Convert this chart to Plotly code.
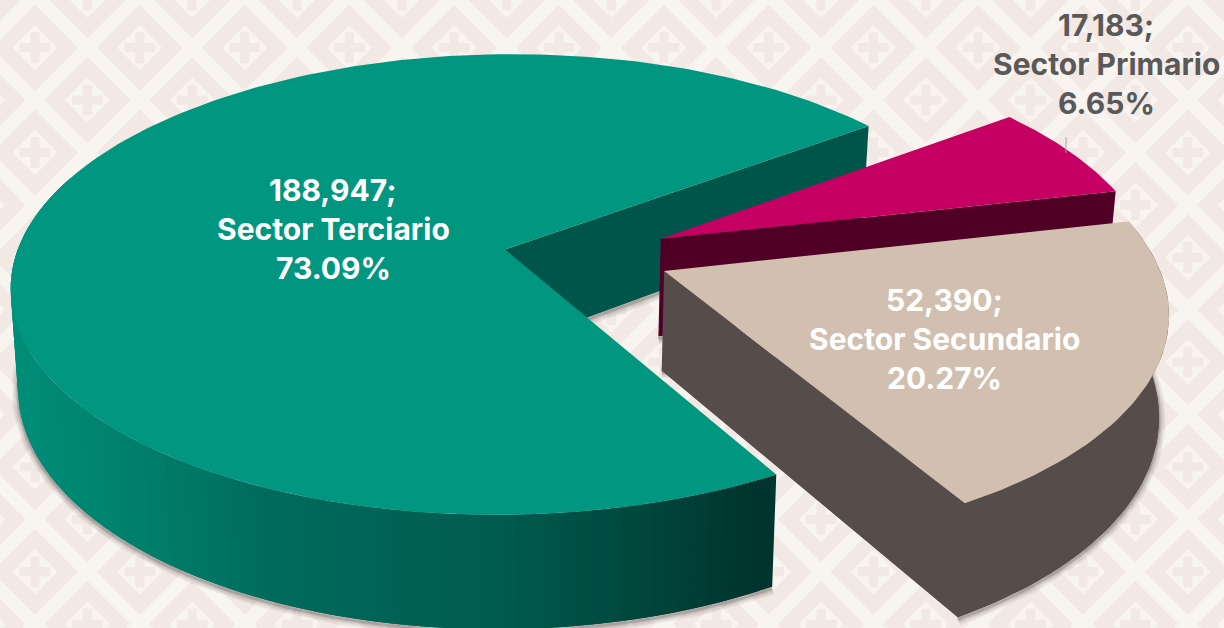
import math
import plotly.graph_objects as go

# ---- data ----
sectors = ["Sector Terciario", "Sector Primario", "Sector Secundario"]
values = [188947, 17183, 52390]
top_colors = ["#00967F", "#C50062", "#D1BFB0"]
cut_colors = ["#00554A", "#4F0024", "#564C49"]
label_colors = ["#FFFFFF", "#595959", "#FFFFFF"]
label_pos = [(333, 190), (1106, 25), (944, 300)]
start_angle = 60.7
explode = [(0.0, 0.0), (0.321, -0.045), (0.322, 0.097)]

W, H = 1224, 628
X0, Y0, A, B, K = 505.0, 249.5, 225.0, 488.0, 0.152
Y0B, AB, BB = 347.5, 239.0, 488.0 * 0.985
SX, SY = -4.0, -2.0


def top(u, v):
    d = 1 - K * v
    return X0 + (B * u + SX * v) / d, Y0 + (A * v + SY * u) / d


def bottom(u, v):
    d = 1 - K * v
    return X0 + (BB * u + SX * v) / d, Y0B + (AB * v + SY * u) / d


def rim(a, off):
    r = math.radians(a)
    return math.cos(r) + off[0], math.sin(r) + off[1]


def curve(fn, a0, a1, off, n=60):
    pts = [fn(*rim(a0 + (a1 - a0) * i / n, off)) for i in range(n + 1)]
    return [p[0] for p in pts], [p[1] for p in pts]


total = sum(values)
spans = [v / total * 360 for v in values]
angles = []
cur = start_angle
for s in spans:
    angles.append((cur, cur + s))
    cur += s

fig = go.Figure()


def poly(xs, ys, color):
    fig.add_trace(go.Scatter(x=list(xs) + [xs[0]], y=list(ys) + [ys[0]], mode="lines", fill="toself",
                             fillcolor=color, line=dict(width=0),
                             hoverinfo="skip", showlegend=False))


def shadow(xs, ys):
    for w, op in [(13, 0.07), (9, 0.09), (5, 0.12), (2.5, 0.16)]:
        fig.add_trace(go.Scatter(x=xs, y=[y + 2 for y in ys], mode="lines",
                                 line=dict(color=f"rgba(50,42,42,{op})", width=w),
                                 hoverinfo="skip", showlegend=False))


def teal_wall_color(x):
    stops = [(0, (0, 144, 122)), (150, (0, 128, 108)), (300, (0, 106, 91)),
             (520, (0, 92, 78)), (650, (0, 72, 62)), (776, (0, 52, 46))]
    for (x1, c1), (x2, c2) in zip(stops, stops[1:]):
        if x <= x2:
            t = max(0, (x - x1) / (x2 - x1))
            return "rgb(%d,%d,%d)" % tuple(round(p + (q - p) * t) for p, q in zip(c1, c2))
    return "rgb(0,52,46)"


# ---- teal slice ----
a0, a1 = angles[0]
off = explode[0]
bx, by = curve(bottom, a0, 200, off, 120)
shadow(bx, by)
apex_t, apex_b = top(*off), bottom(*off)
e_t, e_b = top(*rim(a1, off)), bottom(*rim(a1, off))
shadow([e_b[0], apex_b[0]], [e_b[1], apex_b[1]])
poly([apex_t[0], e_t[0], e_b[0], apex_b[0]], [apex_t[1], e_t[1], e_b[1], apex_b[1]], cut_colors[0])
n = 90
for i in range(n - 1, -1, -1):
    # drawn from the far end towards the slice edge, every band overlapping its neighbour
    s0 = a0 + (200 - a0) * i / n
    s1 = min(200, a0 + (200 - a0) * (i + 2) / n)
    p = [top(*rim(s0, off)), top(*rim(s1, off)), bottom(*rim(s1, off)), bottom(*rim(s0, off))]
    poly([q[0] for q in p], [q[1] for q in p], teal_wall_color((p[0][0] + p[3][0]) / 2))
tx, ty = curve(top, a0, a1, off, 200)
poly([apex_t[0]] + tx, [apex_t[1]] + ty, top_colors[0])

# ---- primary slice ----
a0, a1 = angles[1]
off = explode[1]
apex_t, apex_b = top(*off), bottom(*off)
e_t, e_b = top(*rim(a1, off)), bottom(*rim(a1, off))
shadow([e_b[0], apex_b[0]], [e_b[1], apex_b[1]])
poly([apex_t[0], e_t[0], e_b[0], apex_b[0]], [apex_t[1], e_t[1], e_b[1], apex_b[1]], cut_colors[1])
tx, ty = curve(top, a0, a1, off)
poly([apex_t[0]] + tx, [apex_t[1]] + ty, top_colors[1])

# ---- secondary slice ----
a0, a1 = angles[2]
off = explode[2]
apex_t, apex_b = top(*off), bottom(*off)
bx, by = curve(bottom, a0, a1, off)
shadow([apex_b[0]] + bx, [apex_b[1]] + by)
poly([apex_b[0]] + bx, [apex_b[1]] + by, cut_colors[2])
ox, oy = curve(top, a0, a1, off)
poly(ox + bx[::-1], oy + by[::-1], cut_colors[2])
poly([apex_t[0], ox[-1], bx[-1], apex_b[0]], [apex_t[1], oy[-1], by[-1], apex_b[1]], cut_colors[2])
poly([apex_t[0]] + ox, [apex_t[1]] + oy, top_colors[2])

# ---- background pattern ----
P = 104.8
outer, inner, cross = [], [], []
R1, R2, CL, CW = 43.0, 22.5, 15.5, 4.6
for j in range(-2, 9):
    for i in range(-2, 14):
        for cx, cy in ((35 + P * i, 47.7 + P * j), (87.4 + P * i, 100.1 + P * j)):
            outer.append(f"M{cx-R1},{cy}L{cx},{cy-R1}L{cx+R1},{cy}L{cx},{cy+R1}Z")
            inner.append(f"M{cx-R2},{cy}L{cx},{cy-R2}L{cx+R2},{cy}L{cx},{cy+R2}Z")
            cross.append(
                f"M{cx-CL},{cy-CW}H{cx-CW}V{cy-CL}H{cx+CW}V{cy-CW}H{cx+CL}V{cy+CW}H{cx+CW}V{cy+CL}H{cx-CW}V{cy+CW}H{cx-CL}Z")


def layer(paths, color):
    return dict(type="path", path="".join(paths), fillcolor=color, line=dict(width=0),
                xref="x", yref="y", layer="below")


shapes = [layer(outer, "#F3E9E4"), layer(inner, "#F8F4F0"), layer(cross, "#F3E9E4"),
          dict(type="line", x0=1066, x1=1066, y0=137, y1=153, xref="x", yref="y",
               line=dict(color="#A6A6A6", width=1))]

annotations = []
LINE = 39
for name, v, c, (lx, ly) in zip(sectors, values, label_colors, label_pos):
    lines = [f"{v:,};", name, f"{v / total * 100:.2f}%"]
    for k, line in enumerate(lines):
        annotations.append(dict(x=lx, y=ly + k * LINE, xref="x", yref="y", showarrow=False, align="center",
                                text=line, font=dict(family="Inter", size=30, weight=700, color=c)))

fig.update_layout(
    width=W, height=H, margin=dict(l=0, r=0, t=0, b=0), showlegend=False,
    paper_bgcolor="#F8F4F0", plot_bgcolor="#F8F4F0",
    xaxis=dict(range=[0, W], visible=False, fixedrange=True),
    yaxis=dict(range=[H, 0], visible=False, fixedrange=True),
    shapes=shapes, annotations=annotations,
)
fig.write_html("out.html", config={"displayModeBar": False},
               post_script="document.body.style.margin='0';document.body.style.overflow='hidden';")
